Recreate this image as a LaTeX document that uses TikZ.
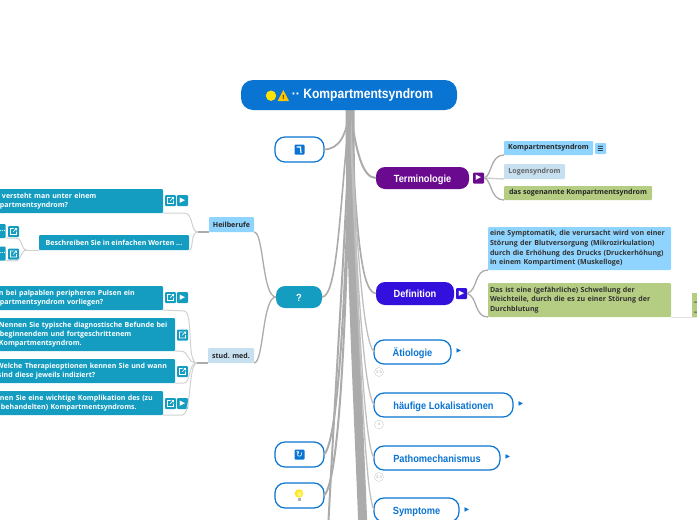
\documentclass[tikz,border=0pt]{standalone}
\usepackage{fontspec}
\setmainfont{Liberation Sans}
\newfontfamily\topicfont[FakeStretch=0.89]{Liberation Sans}
\newfontfamily\boxfont{Open Sans}
\newfontfamily\symfont{DejaVu Sans}
\definecolor{rootblue}{HTML}{0A74D2}
\definecolor{qblue}{HTML}{149DC1}
\definecolor{terpurple}{HTML}{6A0A8E}
\definecolor{defblue}{HTML}{3410DC}
\definecolor{skyfill}{HTML}{8FD4FE}
\definecolor{palefill}{HTML}{C6E0F0}
\definecolor{olivefill}{HTML}{B5CD82}
\definecolor{linkgrey}{HTML}{ABABAB}
\tikzset{
  boxsize/.style 2 args={minimum width=#1pt,minimum height=#2pt,inner sep=0pt,outer sep=0pt},
  topic/.style={draw=rootblue,line width=1.2pt,fill=white,rounded corners=10pt,text=rootblue,text height=9pt,text depth=1pt,font=\topicfont\fontsize{10.4}{12}\selectfont\bfseries},
  solidtopic/.style={fill=#1,rounded corners=9pt,text=white,text height=9pt,text depth=1pt,font=\topicfont\fontsize{10.4}{12}\selectfont\bfseries},
  question/.style={fill=qblue,rounded corners=1pt,text=white,align=left,font=\boxfont\fontsize{7.05}{9.2}\selectfont\bfseries},
  answer/.style={fill=#1,rounded corners=1pt,text=black!80,align=left,font=\boxfont\fontsize{7.05}{9.6}\selectfont\bfseries},
  tag/.style={fill=#1,rounded corners=1pt,text=black!85,font=\boxfont\fontsize{7.05}{9}\selectfont\bfseries},
  iconbox/.style={fill=#1,rounded corners=1pt,minimum size=11pt,inner sep=0pt,text=white,font=\symfont\fontsize{7}{7}\selectfont},
  badge/.style={draw=black!20,fill=white,circle,minimum size=9pt,inner sep=0pt,text=black!35,font=\fontsize{4}{4}\selectfont},
  hint/.style={text=rootblue,inner sep=0pt,font=\symfont\fontsize{6}{6}\selectfont},
  link/.style={draw=linkgrey,line width=1.3pt},
  thinlink/.style={draw=black!18,line width=1pt},
  trunk/.style={draw=linkgrey,line width=#1pt},
  lowtrunk/.style={draw=black!25,line width=1.3pt}
}
\begin{document}
\begin{tikzpicture}[x=1pt,y=-1pt]
\useasboundingbox (0,0) rectangle (697,520);

\coordinate (rootfoot) at (350,110);
\coordinate (offa) at (328,530);
\coordinate (offb) at (363,530);

\node[boxsize={49}{25},topic] (turn) at (299.5,149.5) {};
\node[boxsize={46}{22},solidtopic=qblue] (quest) at (299,297) {?};
\node[boxsize={49}{25},topic] (sync) at (299.5,454.5) {};
\node[boxsize={49}{25},topic] (bulb) at (299.5,495.5) {};
\node[boxsize={93}{22},solidtopic=terpurple] (term) at (422.5,178) {Terminologie};
\node[boxsize={78}{23},solidtopic=defblue] (defi) at (415,293.5) {Definition};
\node[boxsize={77}{24},topic] (aeti) at (412.5,352) {Ätiologie};
\node[boxsize={139}{24},topic] (loka) at (443.5,405) {häufige Lokalisationen};
\node[boxsize={126}{24},topic] (path) at (437,458) {Pathomechanismus};
\node[boxsize={85}{24},topic] (symp) at (416.5,510) {Symptome};

\draw[trunk=9] (rootfoot) .. controls (350,250) and (358,400) .. (offb);
\draw[trunk=1.8] (rootfoot) .. controls (346,135) and (340,149) .. (turn.east);
\draw[trunk=2] (rootfoot) .. controls (356,150) and (362,178) .. (term.west);
\draw[trunk=1.6] (rootfoot) .. controls (340,200) and (338,297) .. (quest.east);
\draw[trunk=1.6] (rootfoot) .. controls (356,200) and (358,293) .. (defi.west);
\draw[lowtrunk] (rootfoot) .. controls (358,270) and (364,340) .. (aeti.west);
\draw[lowtrunk] (rootfoot) .. controls (357,290) and (364,390) .. (loka.west);
\draw[lowtrunk] (rootfoot) .. controls (358,330) and (365,445) .. (path.west);
\draw[lowtrunk] (rootfoot) .. controls (360,380) and (366,495) .. (symp.west);
\draw[trunk=2] (rootfoot) .. controls (347,260) and (340,440) .. (sync.east);
\draw[trunk=2] (rootfoot) .. controls (348,260) and (342,480) .. (bulb.east);
\draw[trunk=2] (rootfoot) .. controls (346,230) and (338,340) .. (offa);

\node[boxsize={216}{30},fill=rootblue,rounded corners=12pt,text=white,font=\topicfont\fontsize{13.6}{14}\selectfont\bfseries] (root) at (349,95) {\hspace*{27pt}·· Kompartmentsyndrom};
\fill[yellow!85!orange] (271,95.7) circle (5.2);
\fill[orange!45!yellow] (277.7,101) -- (283.3,90) -- (289,101) -- cycle;
\node[text=black,inner sep=0pt,font=\fontsize{6}{6}\selectfont\bfseries] (warn) at (283.3,97.5) {!};

\node[iconbox=rootblue,minimum size=10pt] (turnicon) at (299.5,149.5) {};
\draw[white,line width=1.2pt] (296.5,147) -- (300.5,147) -- (301,153);
\node[iconbox=rootblue,minimum size=10pt,font=\symfont\fontsize{8.5}{8}\selectfont] (syncicon) at (299.5,454.5) {↻};
\shade[inner color=yellow!40,outer color=yellow!75!orange] (299,493.5) circle (4.2);
\fill[black!30] (297.5,497.5) rectangle (300.5,501);

\node[iconbox=terpurple] (termplay) at (478.5,178) {▶};
\node[iconbox=defblue] (defiplay) at (461.5,293.5) {▶};
\node[hint] (aetihint) at (459,351) {▶};
\node[hint] (lokahint) at (521,404) {▶};
\node[hint] (pathhint) at (508,457) {▶};
\node[hint] (symphint) at (467,510) {▶};
\node[badge] (aetibadge) at (379,372) {2.5};
\node[badge] (lokabadge) at (379,424.5) {4};
\node[badge] (pathbadge) at (379,477) {3.3};

\node[boxsize={89}{14},tag=skyfill] (kompa) at (548.5,148) {Kompartmentsyndrom};
\node[iconbox=skyfill,text=black] (kompamenu) at (600.5,148.5) {☰};
\node[boxsize={61}{15},tag=palefill,text=black!60] (logen) at (534.5,171.5) {Logensyndrom};
\node[boxsize={148}{14},tag=olivefill] (sogen) at (578,193) {das sogenannte Kompartmentsyndrom};
\draw[link] (termplay.east) .. controls (492,176) and (490,155) .. (kompa.south west);
\draw[link,draw=black!20] (termplay.east) -- (logen.south west);
\draw[link] (termplay.east) .. controls (492,180) and (490,200) .. (sogen.south west);

\node[boxsize={183}{43},answer=skyfill,text width=179pt] (symto) at (579.5,248.5) {eine Symptomatik, die verursacht wird von einer\\Störung der Blutversorgung (Mikrozirkulation)\\durch die Erhöhung des Drucks (Druckerhöhung)\\in einem Kompartiment (Muskelloge)};
\node[boxsize={183}{34},answer=olivefill,text width=179pt] (schwe) at (579.5,300) {Das ist eine (gefährliche) Schwellung der\\Weichteile, durch die es zu einer Störung der\\Durchblutung};
\node[boxsize={20}{24},fill=olivefill] (mehr) at (702,305) {};
\fill[black!65] (694,301.5) rectangle (697,302.5) (694,311.5) rectangle (697,312.5);
\draw[link] (defiplay.east) .. controls (478,290) and (474,270) .. (symto.south west);
\draw[link] (defiplay.east) .. controls (478,297) and (474,317) .. (schwe.south west);
\draw[thinlink] (schwe.south east) -- (mehr.south west) -- (mehr.south east);

\node[boxsize={45}{15},tag=skyfill] (heil) at (231.5,224.5) {Heilberufe};
\node[boxsize={46}{15},tag=palefill] (stud) at (231,355.5) {stud. med.};
\draw[link] (quest.west) .. controls (262,297) and (264,232) .. (heil.south east);
\draw[link] (quest.west) .. controls (262,297) and (264,363) .. (stud.south east);
\coordinate (heilfork) at (198,232);
\coordinate (studfork) at (197,363);
\draw[link] (heil.south west) -- (heilfork);
\draw[link] (stud.south west) -- (studfork);

\node[boxsize={183}{24},question,text width=179pt] (qa) at (71.5,201) {\hspace*{20pt}versteht man unter einem\\\hspace*{18pt}partmentsyndrom?};
\node[iconbox=qblue] (qalink) at (170.5,200.5) {};
\node[iconbox=qblue] (qaplay) at (182.5,200.5) {▶};
\node[boxsize={150}{15},question] (qb) at (114,242.5) {Beschreiben Sie in einfachen Worten ...};
\node[boxsize={25}{14},question] (qba) at (-7.5,231) {\hspace*{20pt}...};
\node[iconbox=qblue] (qbalink) at (13.5,231.5) {};
\node[boxsize={25}{14},question] (qbb) at (-7.5,253.5) {\hspace*{20pt}...};
\node[iconbox=qblue] (qbblink) at (13.5,254) {};
\node[boxsize={183}{24},question,text width=179pt] (qc) at (71.5,298) {\hspace*{17pt}n bei palpablen peripheren Pulsen ein\\\hspace*{18pt}partmentsyndrom vorliegen?};
\node[iconbox=qblue] (qclink) at (170.5,297.5) {};
\node[iconbox=qblue] (qcplay) at (182.5,297.5) {▶};
\node[boxsize={195}{33},question,text width=191pt] (qd) at (77.5,334.5) {\hspace*{17pt}Nennen Sie typische diagnostische Befunde bei\\\hspace*{18pt}beginnendem und fortgeschrittenem\\\hspace*{17pt}Kompartmentsyndrom.};
\node[iconbox=qblue] (qdlink) at (182.5,335) {};
\node[boxsize={195}{24},question,text width=191pt] (qe) at (77.5,371) {\hspace*{15pt}Welche Therapieoptionen kennen Sie und wann\\\hspace*{16pt}sind diese jeweils indiziert?};
\node[iconbox=qblue] (qelink) at (182.5,371.5) {};
\node[boxsize={183}{24},question,text width=179pt] (qf) at (71.5,403) {\hspace*{18pt}nen Sie eine wichtige Komplikation des (zu\\\hspace*{19pt}behandelten) Kompartmentsyndroms.};
\node[iconbox=qblue] (qflink) at (170.5,403.5) {};
\node[iconbox=qblue] (qfplay) at (182.5,403.5) {▶};

\foreach \n in {qalink,qbalink,qbblink,qclink,qdlink,qelink,qflink}
  \draw[white,line width=.6pt,shift={(\n.center)}] (0,-3) -- (-3,-3) -- (-3,3) -- (3,3) -- (3,0) (-.5,.5) -- (3,-3.2) (1,-3.2) -- (3,-3.2) -- (3,-1.2);

\draw[thinlink] (qa.south east) -- (184,213) .. controls (194,213) and (190,232) .. (heilfork);
\draw[thinlink] (qb.south east) .. controls (194,250) and (190,232) .. (heilfork);
\coordinate (qbfork) at (27,250);
\draw[thinlink] (qb.south west) -- (qbfork);
\draw[thinlink] (qba.south east) -- (15,238) .. controls (24,238) and (20,250) .. (qbfork);
\draw[thinlink] (qbb.south east) -- (15,261) .. controls (22,261) and (20,250) .. (qbfork);
\draw[thinlink] (qc.south east) -- (184,311) .. controls (194,311) and (186,363) .. (studfork);
\draw[thinlink] (qd.south east) -- (180,351) .. controls (190,351) and (186,363) .. (studfork);
\draw[thinlink] (qe.south east) -- (184,383) .. controls (191,383) and (188,363) .. (studfork);
\draw[thinlink] (qf.south east) -- (182,415) .. controls (192,415) and (188,363) .. (studfork);
\end{tikzpicture}
\end{document}
